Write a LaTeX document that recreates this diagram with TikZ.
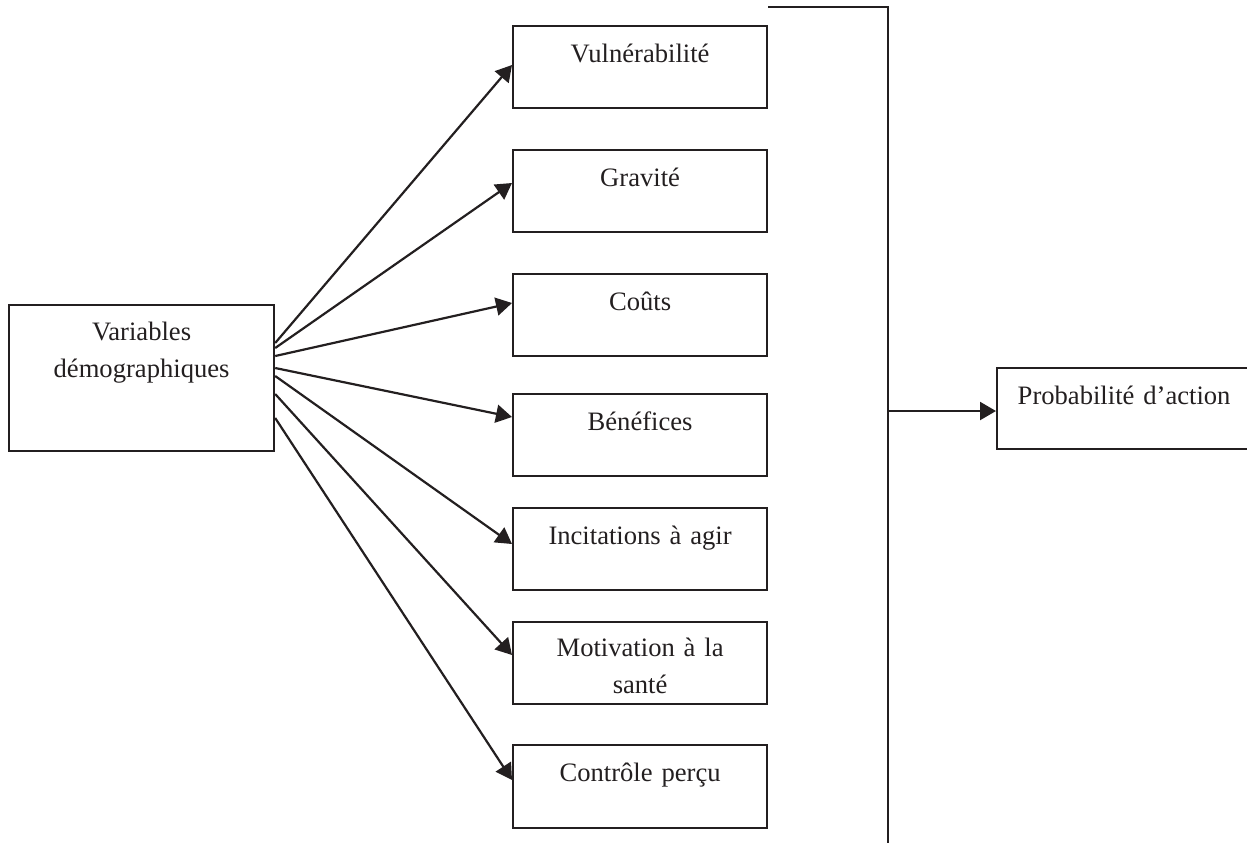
\documentclass[tikz,border=0pt]{standalone}
\usepackage{fontspec}
\setmainfont{Liberation Serif}
\usetikzlibrary{arrows.meta}
\definecolor{ink}{RGB}{35,31,32}
\tikzset{
  box/.style={draw=ink, line width=1.1pt, inner sep=0pt, anchor=north west,
    text width=127pt, align=center, text height=18pt, text depth=23pt,
    font=\fontsize{13.3}{18.5}\selectfont, text=ink},
  arr/.style={draw=ink, line width=1.1pt, -{Triangle[length=8pt,width=9pt]}},
  ln/.style={draw=ink, line width=1.1pt}
}
\begin{document}
\begin{tikzpicture}[x=0.5pt,y=-0.5pt]
\useasboundingbox (0,0) rectangle (1247,843);
% left box
\node[box, text width=132.5pt, text height=17.5pt, text depth=55.5pt] (dv) at (8,304) {Variables\\démographiques};
% middle boxes
\node[box] (v1) at (512,25) {Vulnérabilité};
\node[box] (v2) at (512,149) {Gravité};
\node[box] (v3) at (512,273) {Coûts};
\node[box] (v4) at (512,393) {Bénéfices};
\node[box] (v5) at (512,507) {Incitations à agir};
\node[box, text height=17pt, text depth=24pt] (v6) at (512,621) {Motivation à la\\santé};
\node[box, text depth=23.5pt] (v7) at (512,744) {Contrôle perçu};
% right box
\node[box, text depth=22.5pt] (pa) at (996,367) {Probabilité d’action};
% arrows from left box
\draw[arr] ([yshift=-19.5pt]dv.north east) -- ([yshift=-20pt]v1.north west);
\draw[arr] ([yshift=-22pt]dv.north east) -- ([yshift=-17pt]v2.north west);
\draw[arr] ([yshift=-26pt]dv.north east) -- ([yshift=-15pt]v3.north west);
\draw[arr] ([yshift=-32pt]dv.north east) -- ([yshift=-12pt]v4.north west);
\draw[arr] ([yshift=-36pt]dv.north east) -- ([yshift=-18.5pt]v5.north west);
\draw[arr] ([yshift=-45pt]dv.north east) -- ([yshift=-17pt]v6.north west);
\draw[arr] ([yshift=-57pt]dv.north east) -- ([yshift=-18pt]v7.north west);
% bracket line
\coordinate (tr) at (888,7);
\coordinate (bt) at (888,843);
\coordinate (j) at (888,411);
\draw[ln] (v1.east |- tr) -- (tr) -- (bt);
\draw[arr] (j) -- (j -| pa.west);
\end{tikzpicture}
\end{document}
